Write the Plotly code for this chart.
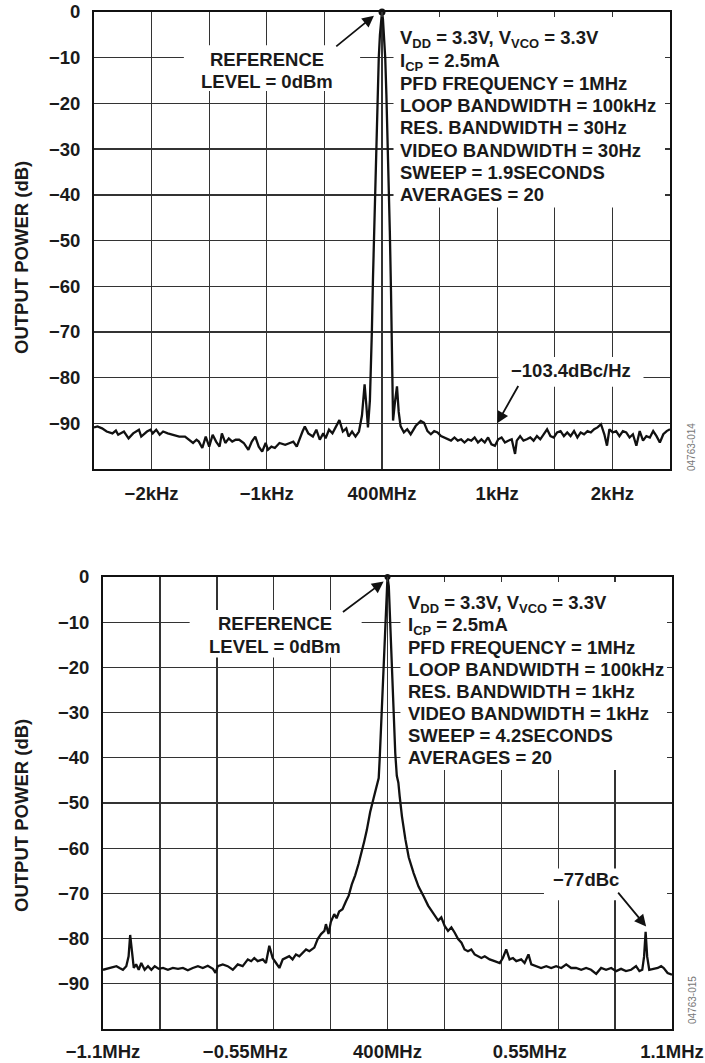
import plotly.graph_objects as go

W, H = 705, 1063

# ---------------- data ----------------
TOP_FREQ_KHZ = [
    -2.50, -2.47, -2.43, -2.39, -2.34, -2.31, -2.29, -2.24, -2.20, -2.16, -2.11, -2.09, -2.04, -2.01,
    -1.99, -1.96, -1.93, -1.90, -1.86, -1.81, -1.76, -1.71, -1.67, -1.64, -1.61, -1.59, -1.56, -1.53,
    -1.50, -1.47, -1.44, -1.41, -1.39, -1.36, -1.33, -1.30, -1.27, -1.24, -1.20, -1.16, -1.13, -1.10,
    -1.07, -1.04, -1.01, -0.99, -0.96, -0.93, -0.89, -0.84, -0.80, -0.77, -0.74, -0.71, -0.69, -0.67,
    -0.64, -0.60, -0.57, -0.54, -0.51, -0.49, -0.46, -0.43, -0.40, -0.37, -0.34, -0.31, -0.29, -0.26,
    -0.23, -0.20, -0.174, -0.162, -0.151, -0.136, -0.122, -0.105, -0.095, -0.088, -0.078, -0.068,
    -0.058, -0.048, -0.038, -0.028, -0.018, -0.008, 0.0, 0.008, 0.018, 0.028, 0.038, 0.048, 0.058,
    0.068, 0.078, 0.085, 0.090, 0.096, 0.112, 0.130, 0.145, 0.161, 0.190, 0.219, 0.249, 0.292, 0.336,
    0.365, 0.395, 0.424, 0.453, 0.482, 0.512, 0.541, 0.570, 0.599, 0.629, 0.658, 0.687, 0.716, 0.746,
    0.775, 0.804, 0.833, 0.863, 0.892, 0.921, 0.950, 0.980, 1.009, 1.038, 1.067, 1.096, 1.126, 1.155,
    1.170, 1.199, 1.228, 1.257, 1.287, 1.316, 1.345, 1.374, 1.404, 1.433, 1.462, 1.491, 1.520, 1.550,
    1.579, 1.608, 1.637, 1.667, 1.696, 1.725, 1.754, 1.784, 1.813, 1.842, 1.871, 1.901, 1.930, 1.953,
    1.974, 2.003, 2.032, 2.061, 2.091, 2.120, 2.149, 2.178, 2.208, 2.237, 2.266, 2.295, 2.325, 2.354,
    2.383, 2.412, 2.442, 2.471, 2.500,
]
TOP_POWER_DB = [
    -90.9, -90.7, -91.1, -91.8, -92.2, -91.6, -92.5, -91.8, -93.3, -92.2, -91.4, -92.9, -91.8, -91.4,
    -92.2, -91.4, -92.5, -91.8, -92.2, -92.5, -92.9, -92.9, -93.6, -94.3, -93.6, -94.0, -95.4, -92.9,
    -95.1, -92.5, -94.0, -95.1, -92.2, -94.3, -93.3, -94.0, -93.6, -93.6, -94.3, -95.8, -94.0, -92.9,
    -95.1, -96.2, -94.3, -95.8, -95.1, -95.4, -94.3, -94.7, -94.3, -94.0, -95.1, -92.9, -91.8, -90.7,
    -92.2, -92.9, -91.4, -93.6, -92.2, -93.3, -91.4, -92.2, -90.7, -89.3, -91.8, -91.1, -92.9, -91.8,
    -92.9, -91.8, -88.3, -84.0, -81.5, -86.0, -90.9, -85.0, -78.0, -70.0, -58.0, -47.0,
    -37.0, -27.0, -18.0, -10.0, -5.0, -1.5, 0.0, -1.5, -5.0, -10.0, -18.0, -27.0, -37.0,
    -48.0, -61.0, -74.0, -84.0, -89.4, -85.5, -81.9, -87.5, -90.6, -92.0, -91.3, -92.4, -90.6, -89.5,
    -89.9, -91.7, -92.4, -91.7, -92.0, -92.8, -93.1, -93.5, -93.8, -93.1, -93.8, -93.5, -94.2, -93.5,
    -93.8, -93.1, -94.2, -93.5, -94.2, -93.1, -94.6, -94.9, -93.5, -93.1, -94.2, -93.8, -93.5, -96.7,
    -93.8, -92.8, -93.8, -93.5, -93.1, -93.8, -92.8, -93.5, -92.4, -91.3, -92.8, -93.1, -92.0, -91.7,
    -92.8, -92.0, -92.8, -91.7, -93.1, -92.0, -92.4, -91.7, -92.0, -91.3, -90.9, -90.2, -92.4, -94.9,
    -91.3, -92.0, -91.7, -92.8, -91.7, -92.0, -93.1, -92.4, -94.9, -91.7, -93.8, -92.8, -93.1, -91.7,
    -92.8, -94.2, -92.4, -91.7, -91.3,
]

BOT_FREQ_MHZ = [
    -1.100, -1.087, -1.068, -1.048, -1.036, -1.023, -1.010, -1.001, -0.995, -0.988, -0.981, -0.972,
    -0.962, -0.952, -0.939, -0.926, -0.913, -0.900, -0.884, -0.868, -0.849, -0.830, -0.810, -0.791,
    -0.772, -0.753, -0.733, -0.714, -0.695, -0.675, -0.665, -0.656, -0.637, -0.618, -0.598, -0.579,
    -0.560, -0.540, -0.527, -0.515, -0.502, -0.482, -0.470, -0.457, -0.444, -0.431, -0.418, -0.405,
    -0.392, -0.380, -0.367, -0.354, -0.341, -0.328, -0.315, -0.302, -0.283, -0.270, -0.257, -0.244,
    -0.238, -0.228, -0.219, -0.206, -0.197, -0.187, -0.174, -0.161, -0.150, -0.138, -0.125, -0.112,
    -0.100, -0.090, -0.080, -0.067, -0.054, -0.044, -0.038, -0.034, -0.030, -0.025, -0.016, -0.010,
    -0.005, 0.0, 0.005, 0.010, 0.016, 0.023, 0.030, 0.036, 0.042, 0.047, 0.056, 0.069, 0.082, 0.101,
    0.120, 0.140, 0.157, 0.170, 0.183, 0.196, 0.208, 0.221, 0.234, 0.247, 0.260, 0.273, 0.286, 0.298,
    0.311, 0.324, 0.337, 0.350, 0.363, 0.376, 0.395, 0.414, 0.434, 0.446, 0.459, 0.472, 0.485, 0.498,
    0.517, 0.530, 0.545, 0.556, 0.575, 0.594, 0.614, 0.633, 0.652, 0.672, 0.691, 0.710, 0.729, 0.749,
    0.768, 0.787, 0.807, 0.826, 0.845, 0.865, 0.884, 0.903, 0.922, 0.942, 0.961, 0.974, 0.985, 0.992,
    0.998, 1.004, 1.012, 1.032, 1.045, 1.058, 1.068, 1.083, 1.100,
]
BOT_POWER_DB = [
    -86.9, -86.7, -86.5, -86.1, -86.5, -86.9, -86.1, -83.9, -79.2, -83.1, -86.5, -85.7,
    -86.9, -85.4, -86.9, -86.1, -86.9, -86.1, -86.7, -86.5, -86.9, -86.5, -86.7, -86.5,
    -87.0, -86.5, -86.1, -86.5, -86.0, -86.7, -87.6, -86.1, -85.7, -86.1, -86.9, -85.7,
    -86.1, -84.6, -85.0, -84.3, -85.0, -84.6, -85.4, -81.6, -84.3, -85.4, -86.5, -84.6,
    -84.3, -83.9, -84.6, -83.5, -83.9, -83.1, -82.4, -82.8, -82.0, -80.1, -79.0, -78.3,
    -76.8, -79.0, -76.3, -74.6, -75.5, -74.0, -73.5, -71.8, -70.5, -68.0, -66.0, -63.5,
    -61.0, -58.5, -56.0, -52.0, -49.0, -46.5, -45.0, -44.5, -40.0, -33.0, -20.0, -10.0,
    -3.0, 0.0, -2.0, -9.3, -18.0, -30.0, -39.0, -44.0, -45.5, -48.5, -53.0, -58.0, -62.0, -65.5,
    -68.5, -70.7, -72.7, -73.8, -74.9, -76.0, -75.3, -77.2, -78.3, -77.5, -78.7, -80.1, -80.9, -82.4,
    -82.8, -82.4, -83.5, -83.9, -84.3, -83.9, -84.6, -85.0, -85.4, -84.3, -82.4, -84.6, -84.3, -85.0,
    -84.6, -85.4, -83.5, -85.7, -86.1, -86.5, -86.1, -86.5, -86.1, -86.5, -85.7, -86.5, -86.5, -86.9,
    -86.5, -86.9, -87.8, -86.5, -86.9, -86.5, -87.2, -86.7, -87.2, -86.9, -86.1, -87.2, -86.9, -84.0,
    -78.5, -84.0, -86.9, -86.7, -86.5, -86.1, -86.5, -87.6, -88.0,
]

Y_TICK_VALUES = [0, -10, -20, -30, -40, -50, -60, -70, -80, -90]
Y_TICK_LABELS = ["0", "\u221210", "\u221220", "\u221230", "\u221240", "\u221250",
                 "\u221260", "\u221270", "\u221280", "\u221290"]

TOP_X_TICK_VALUES = [-2.0, -1.0, 0.0, 1.0, 2.0]
TOP_X_TICK_LABELS = ["\u22122kHz", "\u22121kHz", "400MHz", "1kHz", "2kHz"]
TOP_X_GRID_VALUES = [-2.0, -1.5, -1.0, -0.5, 0.0, 0.5, 1.0, 1.5, 2.0]

BOT_X_TICK_VALUES = [-1.1, -0.55, 0.0, 0.55, 1.1]
BOT_X_TICK_LABELS = ["\u22121.1MHz", "\u22120.55MHz", "400MHz", "0.55MHz", "1.1MHz"]
BOT_X_GRID_VALUES = [-0.88, -0.66, -0.44, -0.22, 0.0, 0.22, 0.44, 0.66, 0.88]

TOP_PARAMS = [
    "V<sub>DD</sub> = 3.3V, V<sub>VCO</sub> = 3.3V",
    "I<sub>CP</sub> = 2.5mA",
    "PFD FREQUENCY = 1MHz",
    "LOOP BANDWIDTH = 100kHz",
    "RES. BANDWIDTH = 30Hz",
    "VIDEO BANDWIDTH = 30Hz",
    "SWEEP = 1.9SECONDS",
    "AVERAGES = 20",
]
BOT_PARAMS = [
    "V<sub>DD</sub> = 3.3V, V<sub>VCO</sub> = 3.3V",
    "I<sub>CP</sub> = 2.5mA",
    "PFD FREQUENCY = 1MHz",
    "LOOP BANDWIDTH = 100kHz",
    "RES. BANDWIDTH = 1kHz",
    "VIDEO BANDWIDTH = 1kHz",
    "SWEEP = 4.2SECONDS",
    "AVERAGES = 20",
]
PARAM_LINE_DB = [-6.0, -10.9, -15.7, -20.5, -25.3, -30.2, -35.1, -40.0]

REF_LINES = ["REFERENCE", "LEVEL = 0dBm"]
TOP_NOISE_LABEL = "\u2212103.4dBc/Hz"
BOT_SPUR_LABEL = "\u221277dBc"
Y_TITLE = "OUTPUT POWER (dB)"
TOP_FIG_ID = "04763-014"
BOT_FIG_ID = "04763-015"

# ---------------- style ----------------
FONT = "Liberation Sans, Arial, Helvetica, sans-serif"
TXT = "#1a1a1a"
GRID = "#333333"
FS = 18.5


def px_x(p):
    return p / W


def px_y(p):
    return 1 - p / H


fig = go.Figure()

fig.add_trace(go.Scatter(x=TOP_FREQ_KHZ, y=TOP_POWER_DB, mode="lines",
                         line=dict(color="#111111", width=2.3), xaxis="x", yaxis="y",
                         showlegend=False, hoverinfo="skip"))
fig.add_trace(go.Scatter(x=BOT_FREQ_MHZ, y=BOT_POWER_DB, mode="lines",
                         line=dict(color="#111111", width=2.3), xaxis="x2", yaxis="y2",
                         showlegend=False, hoverinfo="skip"))
# peak dots
ti = TOP_POWER_DB.index(max(TOP_POWER_DB))
bi = BOT_POWER_DB.index(max(BOT_POWER_DB))
fig.add_trace(go.Scatter(x=[TOP_FREQ_KHZ[ti]], y=[TOP_POWER_DB[ti]], mode="markers",
                         marker=dict(color="#111111", size=7), xaxis="x", yaxis="y",
                         showlegend=False, hoverinfo="skip", cliponaxis=False))
fig.add_trace(go.Scatter(x=[BOT_FREQ_MHZ[bi]], y=[BOT_POWER_DB[bi]], mode="markers",
                         marker=dict(color="#111111", size=6), xaxis="x2", yaxis="y2",
                         showlegend=False, hoverinfo="skip", cliponaxis=False))

grid_minor = dict(showgrid=True, gridcolor=GRID, gridwidth=1.4, ticks="inside", ticklen=5,
                  tickcolor=GRID, tickwidth=1.4)

axis_common = dict(showline=True, mirror="ticks", linecolor="#111111", linewidth=2,
                   zeroline=False, gridcolor=GRID, gridwidth=1.4, automargin=False,
                   tickfont=dict(family=FONT, size=FS, color=TXT, weight="bold"),
                   ticks="inside", ticklen=5, tickcolor=GRID, tickwidth=1.4)

yaxis_common = dict(axis_common, range=[-100, 0], tickmode="array", tickvals=Y_TICK_VALUES,
                    ticktext=Y_TICK_LABELS, showgrid=True, ticklabelstandoff=8)

fig.update_layout(
    template="none",
    width=W, height=H, margin=dict(l=0, r=0, t=0, b=0, pad=0, autoexpand=False),
    paper_bgcolor="white", plot_bgcolor="white", showlegend=False,
    xaxis=dict(axis_common, domain=[px_x(94), px_x(670)], range=[-2.5, 2.5], anchor="y",
               tickmode="array", tickvals=TOP_X_TICK_VALUES, ticktext=TOP_X_TICK_LABELS,
               showgrid=False, ticks="", ticklabelstandoff=7,
               minor=dict(grid_minor, tickmode="array", tickvals=TOP_X_GRID_VALUES)),
    yaxis=dict(yaxis_common, domain=[px_y(469), px_y(12)], anchor="x"),
    xaxis2=dict(axis_common, domain=[px_x(103), px_x(672)], range=[-1.1, 1.1], anchor="y2",
                tickmode="array", tickvals=BOT_X_TICK_VALUES, ticktext=BOT_X_TICK_LABELS,
                showgrid=False, ticks="", ticklabelstandoff=5,
                minor=dict(grid_minor, tickmode="array", tickvals=BOT_X_GRID_VALUES)),
    yaxis2=dict(yaxis_common, domain=[px_y(1029), px_y(577)], anchor="x2"),
)

# ---------------- white masks over gridlines (between grid and traces) ----------------
masks = [
    ("x", "y", 0.10, 2.5, -0.3, -42.8),
    ("x", "y", -1.72, -0.19, -7.3, -17.3),
    ("x", "y", 1.01, 2.27, -75.5, -82.0),
    ("x2", "y2", 0.05, 1.1, -0.3, -42.7),
    ("x2", "y2", -0.765, -0.10, -7.3, -17.8),
    ("x2", "y2", 0.605, 1.1, -64.5, -71.5),
]
for xr, yr, x0, x1, y0, y1 in masks:
    fig.add_shape(type="rect", xref=xr, yref=yr, x0=x0, x1=x1, y0=y0, y1=y1,
                  fillcolor="white", line=dict(width=0), layer="between")

ann_font = dict(family=FONT, size=FS, color=TXT, weight="bold")

# parameter blocks
for txt, yv in zip(TOP_PARAMS, PARAM_LINE_DB):
    fig.add_annotation(x=0.14, y=yv, xref="x", yref="y", text=txt, showarrow=False,
                       xanchor="left", yanchor="middle", font=ann_font)
for txt, yv in zip(BOT_PARAMS, PARAM_LINE_DB):
    fig.add_annotation(x=0.073, y=yv, xref="x2", yref="y2", text=txt, showarrow=False,
                       xanchor="left", yanchor="middle", font=ann_font)

# reference level labels
for txt, yv in zip(REF_LINES, [-10.4, -15.2]):
    fig.add_annotation(x=-1.0, y=yv, xref="x", yref="y", text=txt, showarrow=False,
                       xanchor="center", yanchor="middle", font=ann_font)
for txt, yv in zip(REF_LINES, [-10.2, -15.3]):
    fig.add_annotation(x=-0.435, y=yv, xref="x2", yref="y2", text=txt, showarrow=False,
                       xanchor="center", yanchor="middle", font=ann_font)

# noise / spur labels
fig.add_annotation(x=1.64, y=-78.5, xref="x", yref="y", text=TOP_NOISE_LABEL, showarrow=False,
                   xanchor="center", yanchor="middle", font=ann_font)
fig.add_annotation(x=0.766, y=-67.0, xref="x2", yref="y2", text=BOT_SPUR_LABEL, showarrow=False,
                   xanchor="center", yanchor="middle", font=ann_font)

# arrows
arrows = [
    ("x", "y", -0.41, -7.8, -0.07, -0.8),
    ("x2", "y2", -0.178, -8.0, -0.015, -1.0),
    ("x", "y", 1.19, -81.5, 1.0, -90.0),
    ("x2", "y2", 0.887, -69.5, 1.0, -77.3),
]
for xr, yr, tx, ty, hx, hy in arrows:
    fig.add_annotation(x=hx, y=hy, ax=tx, ay=ty, xref=xr, yref=yr, axref=xr, ayref=yr,
                       text="", showarrow=True, arrowhead=2, arrowsize=1.3, arrowwidth=1.8,
                       arrowcolor="#111111", standoff=0)

# y-axis titles (rotated)
for yc in (258, 816):
    fig.add_annotation(x=px_x(21), y=px_y(yc), xref="paper", yref="paper", text=Y_TITLE,
                       showarrow=False, textangle=-90, xanchor="center", yanchor="middle",
                       font=ann_font)

# figure ids
for txt, yc, xc in ((TOP_FIG_ID, 447, 691), (BOT_FIG_ID, 1000, 692)):
    fig.add_annotation(x=px_x(xc), y=px_y(yc), xref="paper", yref="paper", text=txt,
                       showarrow=False, textangle=-90, xanchor="center", yanchor="middle",
                       font=dict(family=FONT, size=10, color="#777777"))

# remove the default page margin so the figure sits at the window's top-left corner
fig.write_html("out.html", config={"displayModeBar": False, "staticPlot": True},
               post_script="document.body.style.margin='0';document.body.style.overflow='hidden';")
